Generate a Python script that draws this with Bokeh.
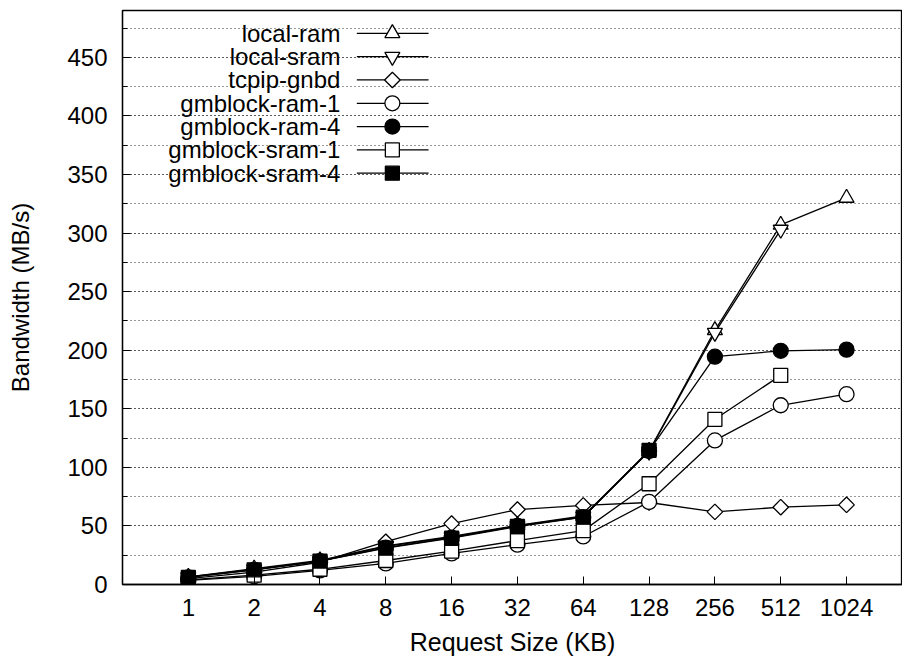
from math import pi
from bokeh.plotting import figure
from bokeh.models import Range1d, FixedTicker, SingleIntervalTicker
from bokeh.embed import file_html
from bokeh.resources import INLINE
from bokeh.core.properties import value

# ---------------- data ----------------
sizes = ["1", "2", "4", "8", "16", "32", "64", "128", "256", "512", "1024"]
series_names = ["local-ram", "local-sram", "tcpip-gnbd", "gmblock-ram-1",
                "gmblock-ram-4", "gmblock-sram-1", "gmblock-sram-4"]
local_ram = [6.5, 13.5, 20.5, 33, 41, 50.5, 58.5, 114, 217, 307, 330]
local_sram = [6.5, 13, 20, 32.5, 40.5, 50, 58, 113.5, 215, 303]
tcpip_gnbd = [5, 10.5, 19, 36.5, 52, 64, 67.5, 70, 62, 66, 68]
gmblock_ram_1 = [3.5, 7, 12, 18, 26.5, 34, 41, 70.5, 123, 153, 162.5]
gmblock_ram_4 = [6, 12.5, 20, 31.5, 40, 50, 57.5, 114, 194.5, 199.5, 200.5]
gmblock_sram_1 = [4, 8, 13, 20.5, 28.5, 37.5, 46, 86, 141, 178.5]
gmblock_sram_4 = [6, 12.5, 20, 31, 39.5, 49.5, 57.5, 114.5]
y_ticks_major = 50

FONT = "Liberation Sans"
FS = "24px"

# marker styles: (marker, size, angle, fill)
styles = [
    ("triangle", 15, 0, "white"),
    ("inverted_triangle", 15, 0, "white"),
    ("square", 11, pi / 4, "white"),
    ("circle", 15, 0, "white"),
    ("circle", 15, 0, "black"),
    ("square", 14, 0, "white"),
    ("square", 14, 0, "black"),
]
values_list = [local_ram, local_sram, tcpip_gnbd, gmblock_ram_1,
               gmblock_ram_4, gmblock_sram_1, gmblock_sram_4]

p = figure(width=902, height=659, output_backend="svg", toolbar_location=None,
           x_range=Range1d(0, 11.85), y_range=Range1d(0, 490),
           min_border_left=122, min_border_right=0, min_border_top=10,
           min_border_bottom=75)
p.outline_line_color = "black"
p.outline_line_width = 1.3
p.background_fill_color = "white"

# x axis
xa = p.xaxis[0]
xa.ticker = FixedTicker(ticks=list(range(1, len(sizes) + 1)))
xa.major_label_overrides = {i + 1: s for i, s in enumerate(sizes)}
xa.axis_label = "Request Size (KB)"
xa.major_tick_in = 8
xa.major_tick_out = 0
xa.major_label_standoff = 14
xa.axis_label_standoff = 9

# y axis
ya = p.yaxis[0]
ya.ticker = SingleIntervalTicker(interval=y_ticks_major, num_minor_ticks=2)
ya.axis_label = "Bandwidth (MB/s)"
ya.major_tick_in = 8
ya.major_tick_out = 0
ya.minor_tick_in = 5
ya.minor_tick_out = 0
ya.major_label_standoff = 15
ya.axis_label_standoff = 30

for ax in (xa, ya):
    ax.axis_line_color = "black"
    ax.axis_line_width = 1.3
    ax.major_tick_line_color = "black"
    ax.minor_tick_line_color = "black" if ax is ya else None
    ax.major_label_text_font = FONT
    ax.major_label_text_font_size = FS
    ax.major_label_text_color = "black"
    ax.axis_label_text_font = FONT
    ax.axis_label_text_font_size = FS
    ax.axis_label_text_font_style = "normal"
    ax.axis_label_text_color = "black"
xa.axis_label_text_font_size = "25px"

# grid
p.xgrid.visible = False
p.ygrid.grid_line_color = "black"
p.ygrid.grid_line_dash = "1 3"
p.ygrid.grid_line_alpha = 0.8
p.ygrid.minor_grid_line_color = "black"
p.ygrid.minor_grid_line_dash = "1 3"
p.ygrid.minor_grid_line_alpha = 0.8

# series
for vals, (mk, sz, ang, fill) in zip(values_list, styles):
    xs = list(range(1, len(vals) + 1))
    p.line(xs, vals, line_color="black", line_width=1.3)
    p.scatter(xs, vals, marker=mk, size=sz, angle=ang, fill_color=fill,
              line_color="black", line_width=1.3)

# custom legend (text right-aligned, sample on the right)
LEG_TEXT_X = 3.31
LEG_LINE_X0 = 3.56
LEG_LINE_X1 = 4.65
LEG_MARK_X = 4.10
LEG_Y0 = 470.5
LEG_DY = 19.9
for i, (name, (mk, sz, ang, fill)) in enumerate(zip(series_names, styles)):
    yy = LEG_Y0 - i * LEG_DY
    p.text(x=[LEG_TEXT_X], y=[yy], text=[name], text_align="right",
           text_baseline="middle", text_font=value(FONT), text_font_size=FS,
           text_color="black")
    p.line([LEG_LINE_X0, LEG_LINE_X1], [yy, yy], line_color="black", line_width=1.3)
    p.scatter([LEG_MARK_X], [yy], marker=mk, size=sz, angle=ang, fill_color=fill,
              line_color="black", line_width=1.3)

open("out.html", "w").write(file_html(p, INLINE))
